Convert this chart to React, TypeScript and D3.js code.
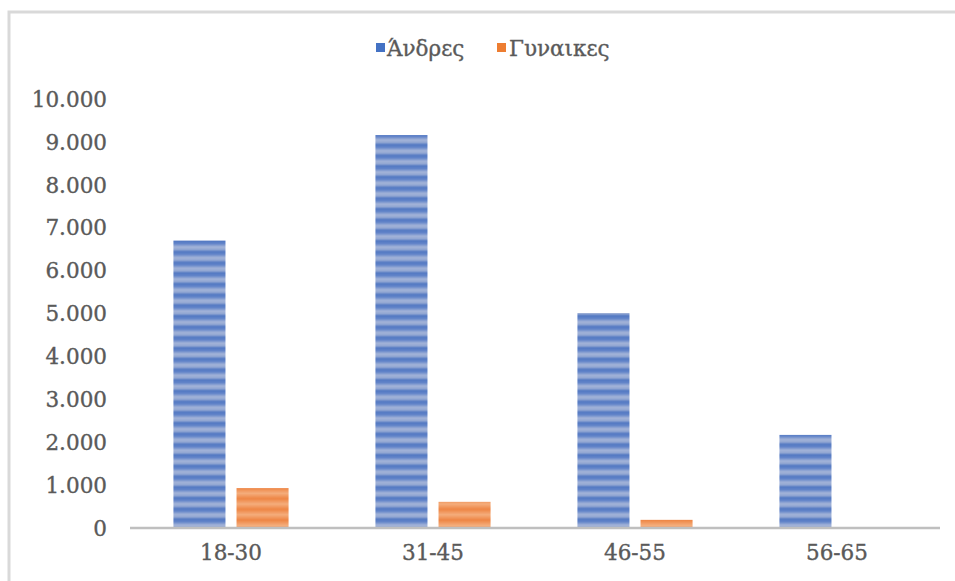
import React from "react";
import * as d3 from "d3";

const categories = ["18-30", "31-45", "46-55", "56-65"];
const seriesNames = ["Άνδρες", "Γυναικες"];
const men = [6700, 9160, 5010, 2170];
const women = [930, 610, 190, 0];
const yTicks = [0, 1000, 2000, 3000, 4000, 5000, 6000, 7000, 8000, 9000, 10000];

const W = 955;
const H = 581;
const FONT = "'DejaVu Serif', serif";
const TEXT = "#5a5a5a";
const FS = 21.5;

export default function App() {
  const x0 = d3.scaleBand<string>().domain(categories).range([130, 938]).paddingInner(0.43).paddingOuter(0.215);
  const x1 = d3.scaleBand<string>().domain(seriesNames).range([0, x0.bandwidth()]).paddingInner(0.175).paddingOuter(0);
  const y = d3.scaleLinear().domain([0, 10000]).range([528, 99]);
  const fmt = (v: number) => d3.format(",")(v).replace(/,/g, ".");
  const data = [men, women];
  const fills = ["url(#stripeBlue)", "url(#stripeOrange)"];
  const legendColors = ["#4472C4", "#ED7D31"];
  const textStyle = { stroke: TEXT, strokeWidth: 0.35 };

  return (
    <svg width={W} height={H} style={{ position: "absolute", left: 0, top: 0, background: "#fff" }}>
      <defs>
        <linearGradient id="gBlue" x1="0" y1="0" x2="0" y2="1">
          <stop offset="0" stopColor="#5278c2" />
          <stop offset="0.25" stopColor="#6385c9" />
          <stop offset="0.55" stopColor="#a4b4d8" />
          <stop offset="0.8" stopColor="#91a6d2" />
          <stop offset="1" stopColor="#5278c2" />
        </linearGradient>
        <pattern id="stripeBlue" patternUnits="userSpaceOnUse" width="10" height="10.7" y="241">
          <rect width="10" height="10.7" fill="url(#gBlue)" />
        </pattern>
        <linearGradient id="gOrange" x1="0" y1="0" x2="0" y2="1">
          <stop offset="0" stopColor="#ee8544" />
          <stop offset="0.5" stopColor="#f4ad7c" />
          <stop offset="1" stopColor="#ee8544" />
        </linearGradient>
        <pattern id="stripeOrange" patternUnits="userSpaceOnUse" width="10" height="10.7" y="488">
          <rect width="10" height="10.7" fill="url(#gOrange)" />
        </pattern>
      </defs>
      {/* outer frame */}
      <rect x={9} y={12} width={W + 20} height={H + 20} fill="none" stroke="#d9d9d9" strokeWidth={3} />

      {/* legend */}
      <g fontFamily={FONT} fontSize={FS} fill={TEXT} style={textStyle}>
        <rect x={376} y={43} width={9} height={9} fill={legendColors[0]} stroke="none" />
        <text x={387} y={56}>{seriesNames[0]}</text>
        <rect x={497} y={43} width={9} height={9} fill={legendColors[1]} stroke="none" />
        <text x={509} y={56}>{seriesNames[1]}</text>
      </g>

      {/* y axis labels */}
      <g fontFamily={FONT} fontSize={FS} fill={TEXT} textAnchor="end" style={textStyle}>
        {yTicks.map((t) => (
          <text key={t} x={107} y={y(t)} dy="0.36em">{fmt(t)}</text>
        ))}
      </g>

      {/* bars */}
      {categories.map((c, i) => (
        <g key={c} transform={`translate(${x0(c)},0)`}>
          {seriesNames.map((s, j) => {
            const v = data[j][i];
            if (v <= 0) return null;
            return (
              <rect key={s} x={x1(s)} y={y(v)} width={x1.bandwidth()} height={y(0) - y(v)} fill={fills[j]} />
            );
          })}
        </g>
      ))}

      {/* x axis */}
      <line x1={130} x2={940} y1={y(0)} y2={y(0)} stroke="#bfbfbf" strokeWidth={2.5} />
      <g fontFamily={FONT} fontSize={FS} fill={TEXT} textAnchor="middle" style={textStyle}>
        {categories.map((c) => (
          <text key={c} x={(x0(c) as number) + x0.bandwidth() / 2} y={560}>{c}</text>
        ))}
      </g>
    </svg>
  );
}
